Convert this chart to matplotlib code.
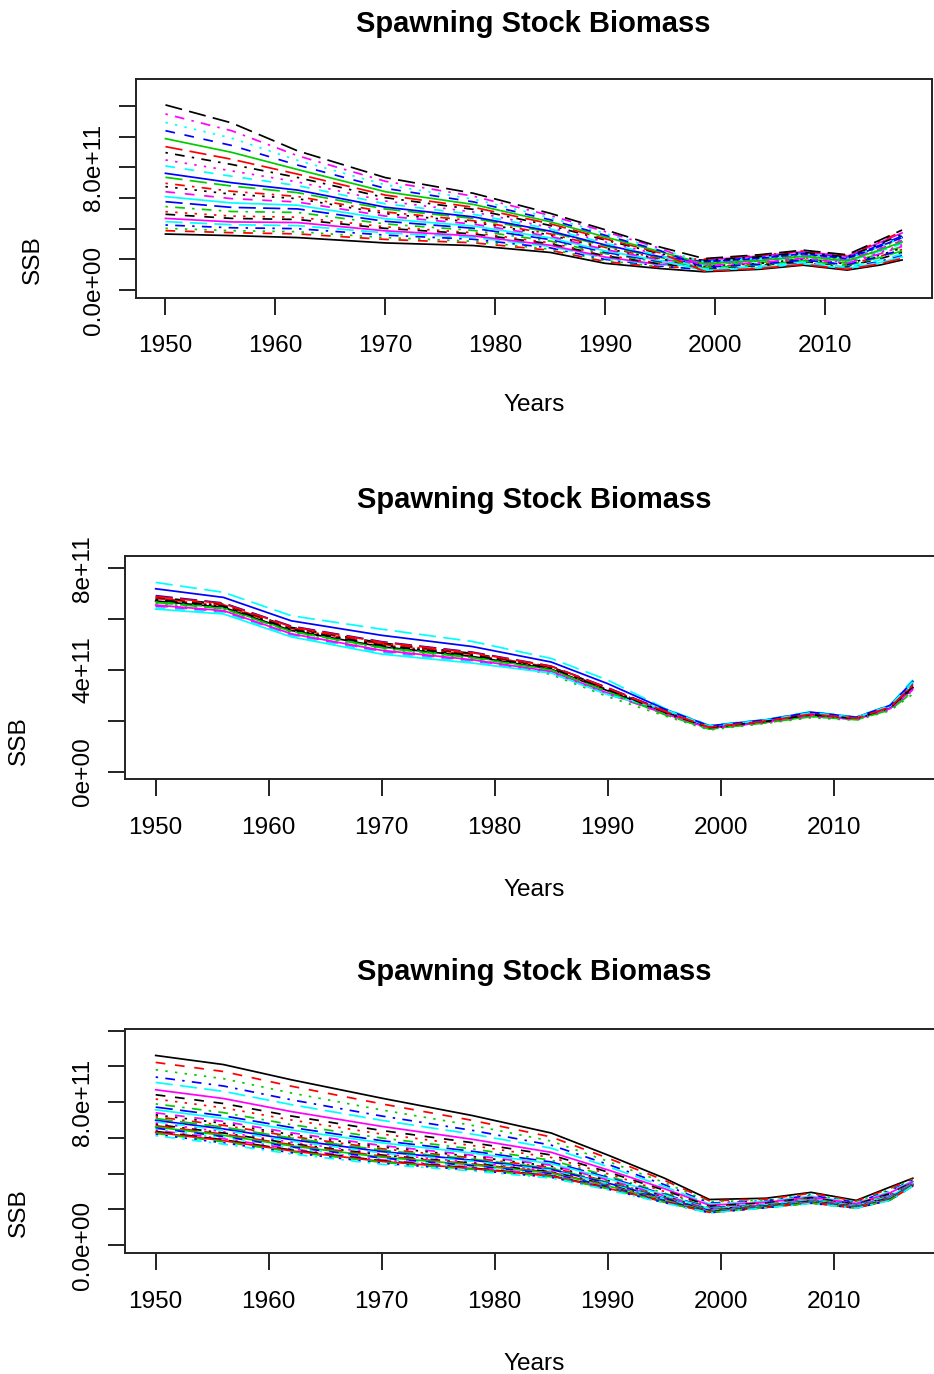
import numpy as np
import matplotlib
matplotlib.use("Agg")
import matplotlib.pyplot as plt

plt.rcParams["font.family"] = ["Liberation Sans", "DejaVu Sans"]

W, H = 934, 1374

years = [1950, 1956, 1962, 1970, 1978, 1985, 1990, 1995, 1999, 2004, 2008, 2012, 2015, 2017]

# SSB runs (units of 1e11), one row per matplot column
ssb_runs_top = [
    [3.65, 3.55, 3.42, 3.07, 2.90, 2.45, 1.74, 1.40, 1.19, 1.35, 1.62, 1.30, 1.63, 1.96],
    [3.87, 3.74, 3.66, 3.30, 3.08, 2.59, 1.86, 1.48, 1.49, 1.68, 1.96, 1.65, 2.20, 2.64],
    [4.02, 3.87, 3.80, 3.42, 3.18, 2.66, 1.92, 1.51, 1.79, 2.02, 2.31, 2.00, 2.77, 3.33],
    [4.24, 4.06, 4.00, 3.58, 3.31, 2.75, 2.00, 1.57, 1.32, 1.49, 1.77, 1.45, 1.87, 2.25],
    [4.46, 4.26, 4.20, 3.73, 3.43, 2.84, 2.08, 1.62, 1.66, 1.87, 2.16, 1.85, 2.53, 3.03],
    [4.67, 4.44, 4.40, 3.86, 3.53, 2.92, 2.15, 1.66, 1.96, 2.21, 2.50, 2.20, 3.10, 3.72],
    [4.94, 4.67, 4.60, 4.02, 3.66, 3.02, 2.23, 1.71, 1.41, 1.59, 1.87, 1.55, 2.04, 2.45],
    [5.11, 4.82, 4.75, 4.12, 3.74, 3.08, 2.28, 1.74, 1.71, 1.92, 2.21, 1.90, 2.61, 3.13],
    [5.44, 5.12, 5.06, 4.31, 3.89, 3.19, 2.38, 1.81, 1.58, 1.78, 2.06, 1.75, 2.36, 2.84],
    [5.76, 5.39, 5.29, 4.48, 4.03, 3.29, 2.46, 1.86, 1.88, 2.11, 2.40, 2.10, 2.93, 3.52],
    [6.09, 5.68, 5.53, 4.65, 4.17, 3.40, 2.55, 1.92, 1.28, 1.45, 1.72, 1.40, 1.79, 2.16],
    [6.41, 5.96, 5.74, 4.82, 4.30, 3.50, 2.64, 1.97, 1.75, 1.97, 2.26, 1.95, 2.69, 3.23],
    [6.74, 6.25, 5.96, 4.98, 4.43, 3.59, 2.72, 2.03, 1.53, 1.73, 2.01, 1.70, 2.28, 2.74],
    [6.96, 6.44, 6.10, 5.09, 4.52, 3.66, 2.78, 2.06, 2.01, 2.25, 2.55, 2.25, 3.18, 3.81],
    [7.35, 6.78, 6.35, 5.28, 4.67, 3.77, 2.87, 2.13, 1.45, 1.64, 1.91, 1.60, 2.12, 2.55],
    [7.61, 7.00, 6.52, 5.40, 4.77, 3.84, 2.94, 2.17, 1.84, 2.06, 2.36, 2.05, 2.85, 3.42],
    [8.09, 7.42, 6.81, 5.62, 4.94, 3.98, 3.05, 2.24, 1.36, 1.54, 1.82, 1.50, 1.96, 2.35],
    [8.48, 7.77, 7.05, 5.80, 5.09, 4.08, 3.14, 2.30, 1.62, 1.83, 2.11, 1.80, 2.45, 2.94],
    [8.96, 8.19, 7.34, 6.02, 5.26, 4.21, 3.26, 2.37, 1.92, 2.16, 2.45, 2.15, 3.02, 3.62],
    [9.35, 8.53, 7.56, 6.19, 5.40, 4.32, 3.34, 2.42, 1.23, 1.40, 1.67, 1.35, 1.71, 2.06],
    [9.87, 8.98, 7.86, 6.41, 5.58, 4.45, 3.46, 2.50, 1.71, 1.92, 2.21, 1.90, 2.61, 3.13],
    [10.39, 9.43, 8.15, 6.63, 5.75, 4.58, 3.57, 2.57, 1.49, 1.68, 1.96, 1.65, 2.20, 2.64],
    [10.93, 9.91, 8.46, 6.86, 5.93, 4.72, 3.69, 2.65, 1.84, 2.06, 2.36, 2.05, 2.85, 3.42],
    [11.48, 10.39, 8.76, 7.09, 6.12, 4.86, 3.81, 2.72, 1.58, 1.78, 2.06, 1.75, 2.36, 2.84],
    [12.07, 10.90, 9.08, 7.33, 6.31, 5.00, 3.93, 2.80, 2.05, 2.30, 2.60, 2.30, 3.26, 3.91],
]

ssb_runs_mid = [
    [6.71, 6.46, 5.55, 4.91, 4.53, 4.03, 3.18, 2.34, 1.72, 1.97, 2.23, 2.08, 2.50, 3.30],
    [6.81, 6.54, 5.63, 5.01, 4.61, 4.09, 3.24, 2.37, 1.74, 1.98, 2.25, 2.09, 2.53, 3.36],
    [6.62, 6.39, 5.48, 4.84, 4.46, 3.82, 2.95, 2.20, 1.64, 1.90, 2.12, 2.02, 2.40, 3.05],
    [6.76, 6.50, 5.59, 4.96, 4.57, 4.06, 3.21, 2.38, 1.75, 1.99, 2.26, 2.10, 2.54, 3.39],
    [7.44, 7.05, 6.13, 5.60, 5.12, 4.45, 3.60, 2.50, 1.82, 2.05, 2.36, 2.15, 2.63, 3.61],
    [6.55, 6.33, 5.42, 4.77, 4.40, 3.94, 3.09, 2.31, 1.70, 1.95, 2.20, 2.07, 2.48, 3.25],
    [6.86, 6.58, 5.67, 5.06, 4.65, 4.12, 3.27, 2.35, 1.73, 1.98, 2.24, 2.09, 2.52, 3.33],
    [6.79, 6.52, 5.62, 4.99, 4.59, 4.08, 3.23, 2.40, 1.76, 2.00, 2.28, 2.10, 2.55, 3.41],
    [6.68, 6.44, 5.53, 4.89, 4.51, 4.02, 3.17, 2.26, 1.68, 1.93, 2.17, 2.05, 2.45, 3.16],
    [6.92, 6.63, 5.72, 5.11, 4.70, 4.15, 3.30, 2.41, 1.77, 2.01, 2.29, 2.11, 2.56, 3.44],
    [6.39, 6.20, 5.30, 4.62, 4.27, 3.88, 3.03, 2.44, 1.78, 2.02, 2.31, 2.12, 2.58, 3.50],
    [6.50, 6.29, 5.38, 4.72, 4.36, 3.91, 3.06, 2.29, 1.69, 1.95, 2.19, 2.06, 2.47, 3.22],
    [6.74, 6.48, 5.57, 4.94, 4.55, 4.05, 3.20, 2.32, 1.71, 1.96, 2.22, 2.07, 2.49, 3.27],
    [6.83, 6.56, 5.65, 5.03, 4.63, 4.10, 3.25, 2.43, 1.78, 2.01, 2.30, 2.12, 2.57, 3.47],
    [6.65, 6.41, 5.51, 4.87, 4.48, 4.00, 3.15, 2.25, 1.67, 1.92, 2.16, 2.04, 2.43, 3.13],
    [7.19, 6.85, 5.93, 5.36, 4.92, 4.31, 3.46, 2.47, 1.80, 2.04, 2.34, 2.14, 2.61, 3.55],
    [6.44, 6.24, 5.34, 4.67, 4.31, 3.88, 3.03, 2.46, 1.79, 2.03, 2.32, 2.13, 2.60, 3.53],
    [6.52, 6.30, 5.40, 4.74, 4.37, 3.92, 3.07, 2.28, 1.69, 1.94, 2.18, 2.05, 2.46, 3.19],
    [6.77, 6.51, 5.60, 4.97, 4.58, 4.07, 3.22, 2.35, 1.73, 1.98, 2.24, 2.09, 2.52, 3.33],
    [6.89, 6.61, 5.70, 5.09, 4.68, 4.14, 3.29, 2.38, 1.75, 1.99, 2.26, 2.10, 2.54, 3.39],
]

ssb_runs_bot = [
    [10.61, 10.10, 9.25, 8.22, 7.25, 6.27, 5.04, 3.75, 2.55, 2.62, 2.95, 2.50, 3.25, 3.74],
    [10.22, 9.71, 8.89, 7.90, 6.98, 6.05, 4.87, 3.63, 2.48, 2.57, 2.90, 2.46, 3.18, 3.70],
    [9.81, 9.31, 8.51, 7.56, 6.70, 5.82, 4.69, 3.50, 2.42, 2.52, 2.84, 2.42, 3.12, 3.66],
    [9.40, 8.90, 8.13, 7.22, 6.42, 5.59, 4.52, 3.38, 2.35, 2.47, 2.78, 2.38, 3.05, 3.62],
    [9.10, 8.60, 7.86, 6.98, 6.21, 5.42, 4.39, 3.28, 2.30, 2.44, 2.74, 2.35, 3.00, 3.59],
    [8.69, 8.20, 7.47, 6.64, 5.92, 5.19, 4.21, 3.16, 2.23, 2.39, 2.68, 2.31, 2.93, 3.55],
    [8.41, 7.92, 7.22, 6.41, 5.73, 5.04, 4.09, 3.07, 2.18, 2.36, 2.65, 2.28, 2.88, 3.52],
    [8.17, 7.68, 7.00, 6.21, 5.57, 4.90, 3.99, 3.00, 2.14, 2.33, 2.61, 2.26, 2.84, 3.50],
    [7.90, 7.41, 6.74, 5.99, 5.38, 4.75, 3.87, 2.91, 2.10, 2.29, 2.58, 2.23, 2.80, 3.47],
    [7.72, 7.23, 6.58, 5.84, 5.25, 4.65, 3.79, 2.85, 2.07, 2.27, 2.55, 2.22, 2.77, 3.46],
    [7.57, 7.09, 6.44, 5.72, 5.15, 4.56, 3.73, 2.81, 2.04, 2.25, 2.53, 2.20, 2.74, 3.44],
    [7.40, 6.92, 6.28, 5.57, 5.03, 4.47, 3.65, 2.76, 2.01, 2.23, 2.51, 2.19, 2.71, 3.43],
    [7.29, 6.81, 6.18, 5.49, 4.96, 4.41, 3.61, 2.72, 2.00, 2.22, 2.49, 2.17, 2.70, 3.41],
    [7.18, 6.70, 6.08, 5.39, 4.88, 4.34, 3.56, 2.69, 1.98, 2.21, 2.48, 2.16, 2.68, 3.40],
    [7.08, 6.60, 5.99, 5.31, 4.81, 4.29, 3.52, 2.66, 1.96, 2.20, 2.46, 2.15, 2.66, 3.39],
    [6.98, 6.50, 5.90, 5.23, 4.75, 4.23, 3.47, 2.63, 1.94, 2.18, 2.45, 2.14, 2.64, 3.38],
    [6.90, 6.42, 5.82, 5.16, 4.69, 4.19, 3.44, 2.60, 1.93, 2.17, 2.44, 2.14, 2.63, 3.38],
    [6.82, 6.34, 5.75, 5.10, 4.63, 4.14, 3.40, 2.58, 1.92, 2.16, 2.43, 2.13, 2.62, 3.37],
    [6.75, 6.27, 5.68, 5.04, 4.58, 4.10, 3.37, 2.55, 1.91, 2.16, 2.42, 2.12, 2.61, 3.36],
    [6.68, 6.21, 5.62, 4.98, 4.54, 4.07, 3.34, 2.53, 1.89, 2.15, 2.41, 2.12, 2.59, 3.36],
    [6.61, 6.14, 5.55, 4.92, 4.49, 4.02, 3.31, 2.51, 1.88, 2.14, 2.40, 2.11, 2.58, 3.35],
    [6.54, 6.07, 5.49, 4.87, 4.44, 3.99, 3.28, 2.49, 1.87, 2.13, 2.39, 2.10, 2.57, 3.34],
    [6.48, 6.01, 5.43, 4.82, 4.40, 3.95, 3.26, 2.47, 1.86, 2.12, 2.38, 2.10, 2.56, 3.34],
    [6.42, 5.95, 5.38, 4.77, 4.36, 3.92, 3.23, 2.45, 1.85, 2.12, 2.37, 2.09, 2.55, 3.33],
    [6.36, 5.89, 5.32, 4.72, 4.31, 3.88, 3.20, 2.43, 1.84, 2.11, 2.36, 2.08, 2.54, 3.32],
    [6.31, 5.84, 5.27, 4.68, 4.28, 3.86, 3.18, 2.42, 1.83, 2.10, 2.36, 2.08, 2.53, 3.32],
    [6.25, 5.78, 5.22, 4.63, 4.24, 3.82, 3.16, 2.40, 1.82, 2.10, 2.35, 2.07, 2.52, 3.31],
    [6.19, 5.72, 5.17, 4.58, 4.20, 3.79, 3.13, 2.38, 1.81, 2.09, 2.34, 2.07, 2.51, 3.31],
    [6.12, 5.65, 5.10, 4.52, 4.15, 3.75, 3.10, 2.36, 1.80, 2.08, 2.33, 2.06, 2.50, 3.30],
]

x_ticks = [1950, 1960, 1970, 1980, 1990, 2000, 2010]
y_ticks_wide = [0, 2e11, 4e11, 6e11, 8e11, 1e12, 1.2e12]
y_labels_wide = ["0.0e+00", "", "", "", "8.0e+11", "", ""]
y_ticks_narrow = [0, 2e11, 4e11, 6e11, 8e11]
y_labels_narrow = ["0e+00", "", "4e+11", "", "8e+11"]

# R matplot defaults: col = 1:6, lty = 1:5
r_cols = ["#000000", "#FF0000", "#00CD00", "#0000FF", "#00FFFF", "#FF00FF"]
r_ltys = ["solid", (0, (5.6, 5.6)), (0, (1.4, 4.2)),
          (0, (1.4, 4.2, 5.6, 4.2)), (0, (9.9, 4.2))]

TICK_FS = 17.6
TITLE_FS = 21


def px_rect(left, right, top, bottom):
    return [left / W, 1 - bottom / H, (right - left) / W, (bottom - top) / H]


def fig_text(x, y, s, **kw):
    fig.text(x / W, 1 - y / H, s, **kw)


def ssb_panel(rect, runs, ylim, yticks, ylabels, title_y, years_y, ssb_xy):
    ax = fig.add_axes(rect)
    for i, run in enumerate(runs):
        ax.plot(years, np.array(run) * 1e11, color=r_cols[i % 6],
                linestyle=r_ltys[i % 5], lw=1.25)
    ax.set_xlim(1947.32, 2019.68)
    ax.set_ylim(ylim[0] * 1e11, ylim[1] * 1e11)
    ax.set_xticks(x_ticks)
    ax.set_xticklabels([str(t) for t in x_ticks])
    ax.set_yticks(yticks)
    ax.set_yticklabels(ylabels, rotation=90, va="center")
    ax.tick_params(length=12.2, width=1.4, labelsize=TICK_FS, color="#222222")
    ax.tick_params(axis="x", pad=14.6)
    ax.tick_params(axis="y", pad=10.3)
    for sp in ax.spines.values():
        sp.set_linewidth(1.4)
        sp.set_color("#222222")
    xmid = (rect[0] + rect[2] / 2) * W
    fig_text(xmid, title_y, "Spawning Stock Biomass", ha="center",
             va="baseline", fontsize=TITLE_FS, fontweight="bold")
    fig_text(xmid, years_y, "Years", ha="center", va="baseline",
             fontsize=TICK_FS)
    fig_text(ssb_xy[0], ssb_xy[1], "SSB", rotation=90, ha="center",
             va="center", fontsize=TICK_FS)
    return ax


fig = plt.figure(figsize=(W / 100, H / 100), dpi=100)

ssb_panel(px_rect(136, 931.5, 79, 298), ssb_runs_top, (-0.52, 13.76),
          y_ticks_wide, y_labels_wide, 32.5, 411, (33, 260))
ssb_panel(px_rect(125.4, 943.1, 555.7, 779.3), ssb_runs_mid, (-0.30, 8.49),
          y_ticks_narrow, y_labels_narrow, 507.5, 896, (19, 741))
ssb_panel(px_rect(125.4, 943.1, 1029, 1253.3), ssb_runs_bot, (-0.46, 12.09),
          y_ticks_wide, y_labels_wide, 980.5, 1370, (19, 1213))

fig.savefig("out.png", dpi=100)
